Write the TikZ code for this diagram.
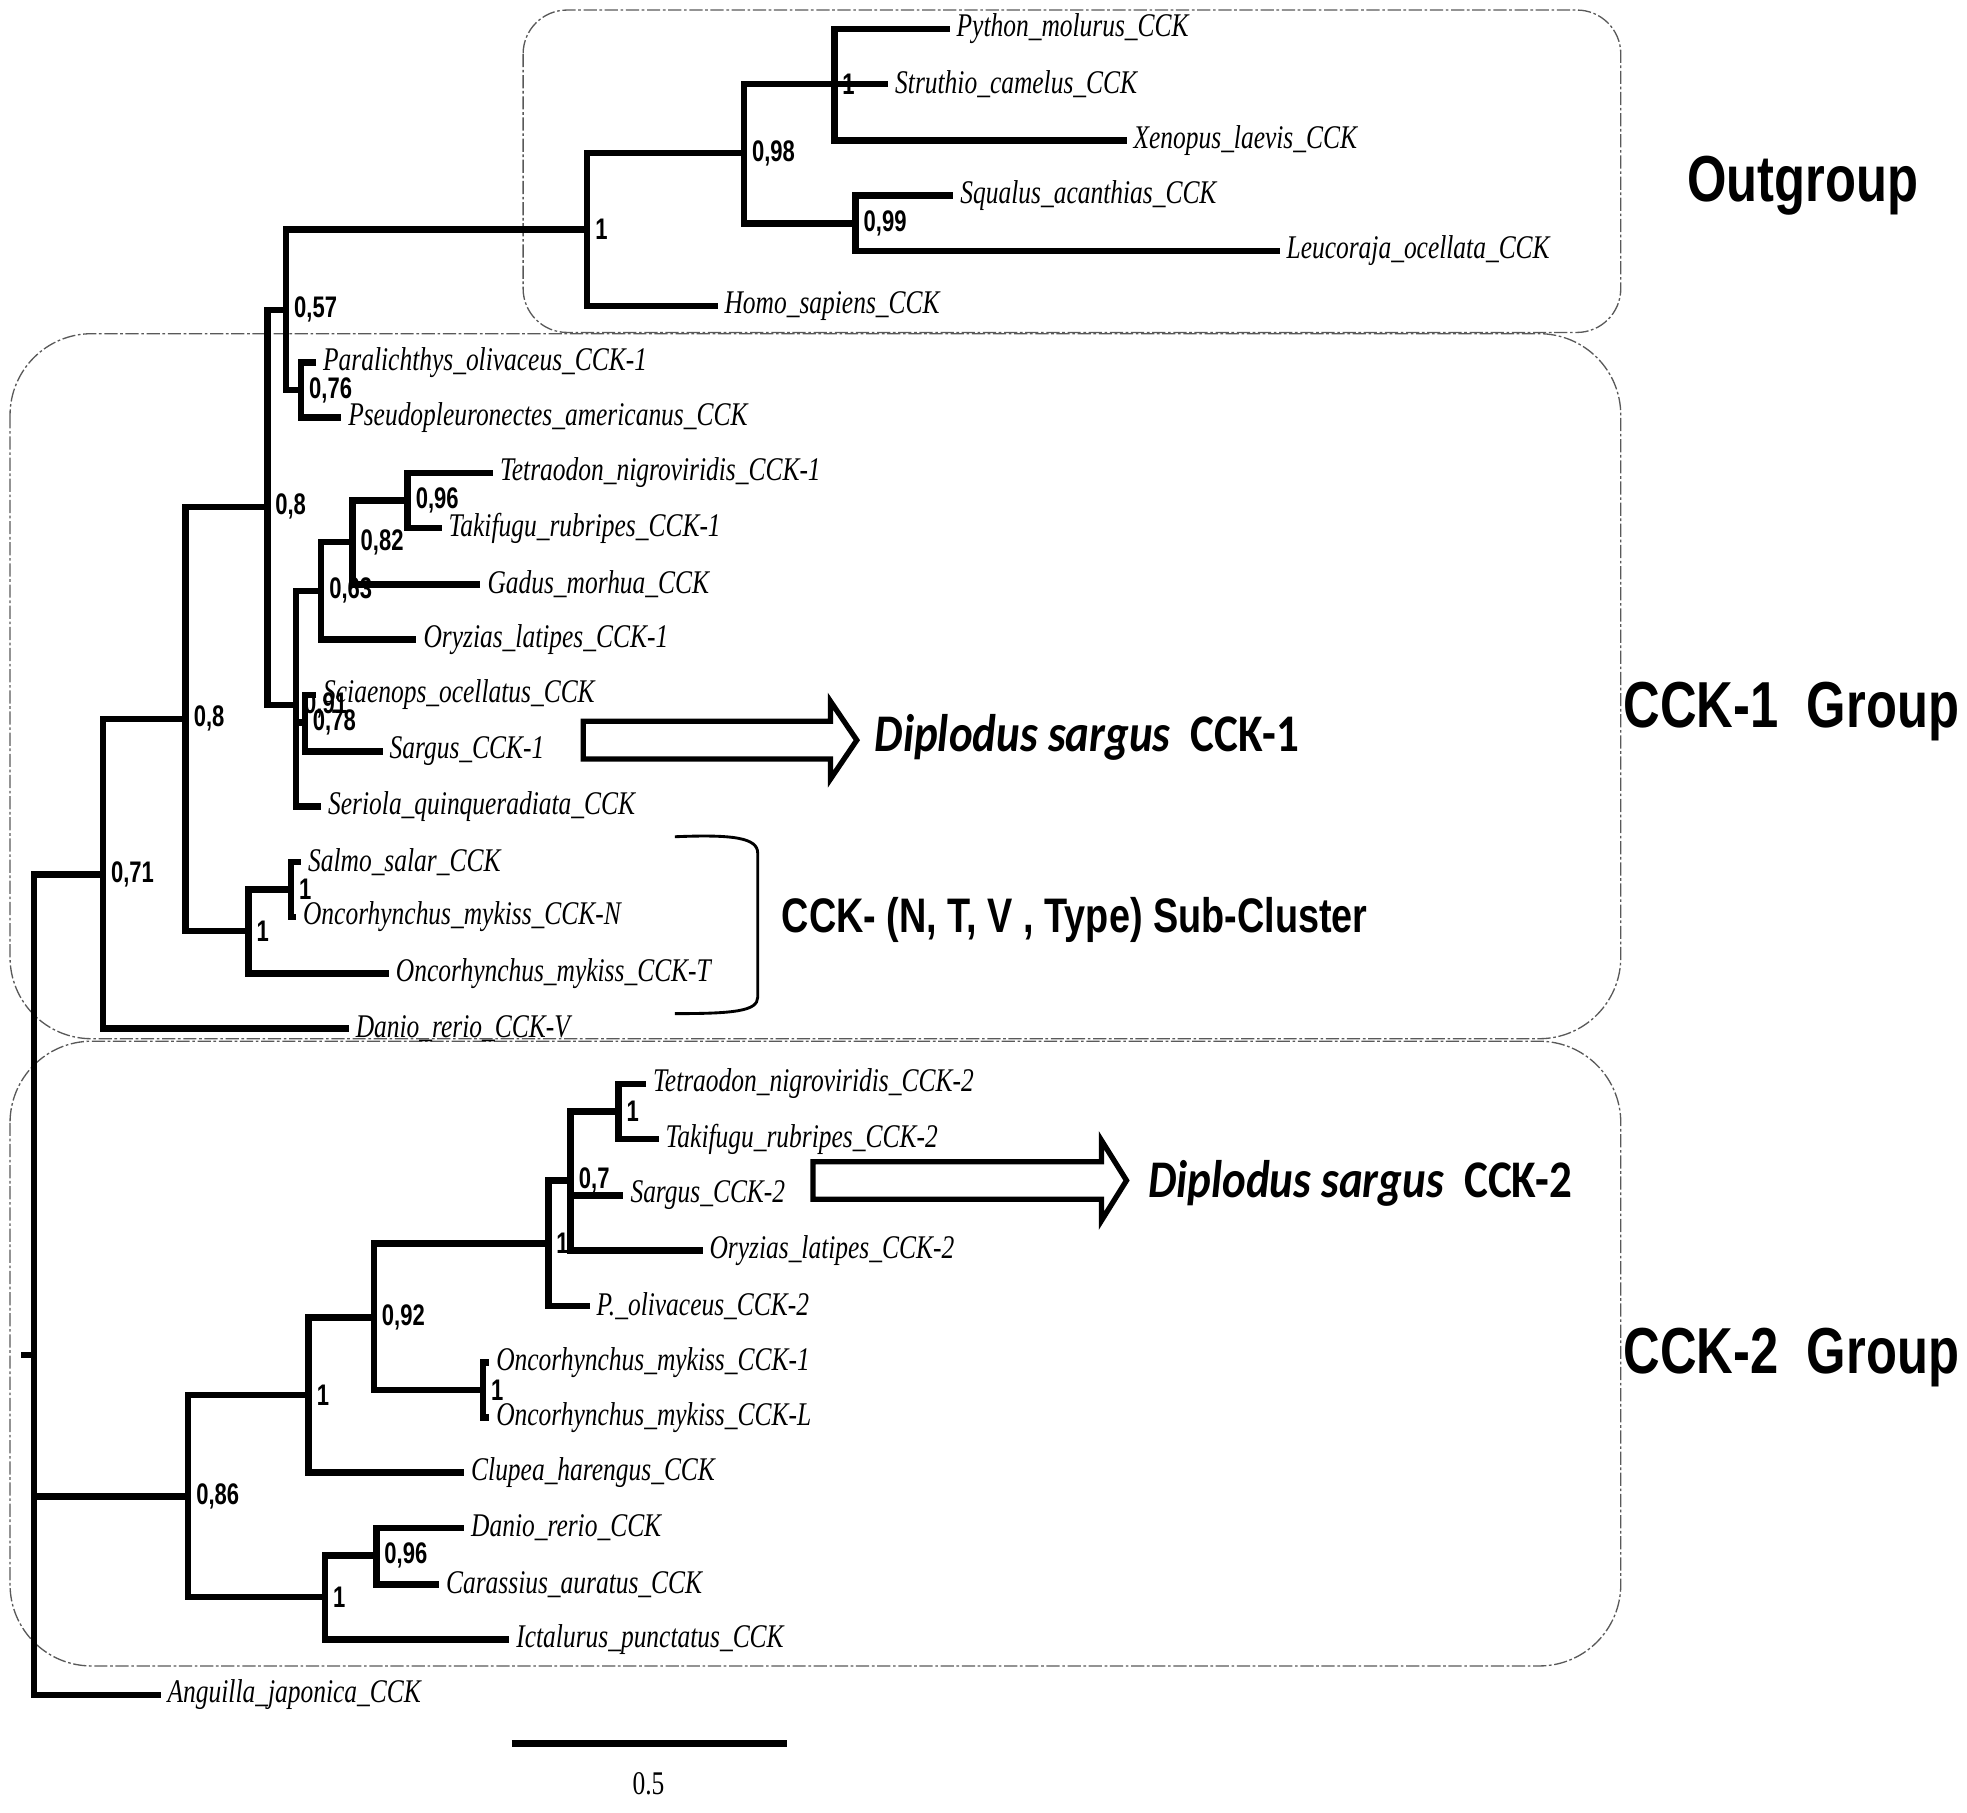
\documentclass[tikz,border=0pt]{standalone}
\usepackage{fontspec}
\usepackage{tikz}
\usetikzlibrary{positioning, backgrounds}
\setmainfont{Liberation Serif}
\newfontfamily\taxfont[FakeStretch=0.77]{Liberation Serif}
\newfontfamily\suppfont[FakeStretch=0.74]{Liberation Sans}
\newfontfamily\grpfont[FakeStretch=0.78]{Liberation Sans}
\newfontfamily\dipfont[FakeStretch=0.85]{Carlito}

\begin{document}
\begin{tikzpicture}[x=0.02cm, y=-0.02cm]
    \tikzstyle{taxon} = [anchor=west, inner sep=3pt, font=\taxfont\itshape\fontsize{15}{18}\selectfont]
    \tikzstyle{support} = [anchor=west, inner sep=1pt, xshift=2.5pt, font=\suppfont\bfseries\fontsize{13.5}{15}\selectfont]
    \tikzstyle{group} = [inner sep=0pt, font=\grpfont\bfseries\fontsize{29.5}{34}\selectfont]
    \tikzstyle{sub} = [anchor=west, inner sep=0pt, font=\grpfont\bfseries\fontsize{22}{26}\selectfont]
    \tikzstyle{dip} = [anchor=west, inner sep=0pt, font=\dipfont\bfseries\fontsize{24}{28}\selectfont]
    \tikzstyle{elbow} = [draw, line width=3pt, to path={|- (\tikztotarget)}]
    \tikzstyle{groupbox} = [draw=black!65, line width=0.6pt, dash pattern=on 6pt off 1.2pt on 1.2pt off 1.2pt]
    \tikzstyle{fatarrow} = [draw, line width=2.4pt, fill=white, line join=miter]

    \useasboundingbox (0,0) rectangle (1568,1445);

    % Inner nodes of the tree
    \coordinate (root) at (27,1080);
    \coordinate (rootstub) at (17,1080);
    \coordinate (n071) at (82,697);
    \coordinate (n08a) at (148,573);
    \coordinate (n08b) at (213,404);
    \coordinate (n057) at (228,247);
    \coordinate (nout) at (468,183);
    \coordinate (n098) at (593,122);
    \coordinate (n1py) at (665,67);
    \coordinate (n099) at (682,178);
    \coordinate (n076) at (240,311);
    \coordinate (n091) at (236,562);
    \coordinate (n063) at (256,471);
    \coordinate (n082) at (281,432);
    \coordinate (n096a) at (325,399);
    \coordinate (n078) at (243,576);
    \coordinate (n1sal) at (198,742);
    \coordinate (n1om) at (232,709);
    \coordinate (n086) at (150,1193);
    \coordinate (n1c) at (246,1112);
    \coordinate (n092) at (298,1050);
    \coordinate (n1p) at (437,991);
    \coordinate (n07) at (455,941);
    \coordinate (n1t) at (493,886);
    \coordinate (n1o) at (385,1108);
    \coordinate (n1d) at (259,1273);
    \coordinate (n096b) at (300,1240);

    % Outgroup
    \node[taxon] (python) at (757,23) {Python\_molurus\_CCK};
    \node[taxon] (struthio) at (708,67) {Struthio\_camelus\_CCK};
    \node[taxon] (xenopus) at (898,112) {Xenopus\_laevis\_CCK};
    \node[taxon] (squalus) at (760,156) {Squalus\_acanthias\_CCK};
    \node[taxon] (leucoraja) at (1020,200) {Leucoraja\_ocellata\_CCK};
    \node[taxon] (homo) at (572,244) {Homo\_sapiens\_CCK};

    % CCK-1 group
    \node[taxon] (paralichthys) at (252,289) {Paralichthys\_olivaceus\_CCK-1};
    \node[taxon] (pseudopleuronectes) at (272,333) {Pseudopleuronectes\_americanus\_CCK};
    \node[taxon] (tetraodonA) at (393,377) {Tetraodon\_nigroviridis\_CCK-1};
    \node[taxon] (takifuguA) at (352,421) {Takifugu\_rubripes\_CCK-1};
    \node[taxon] (gadus) at (383,466) {Gadus\_morhua\_CCK};
    \node[taxon] (oryziasA) at (332,510) {Oryzias\_latipes\_CCK-1};
    \node[taxon] (sciaenops) at (252,554) {Sciaenops\_ocellatus\_CCK};
    \node[taxon] (sargusA) at (305,599) {Sargus\_CCK-1};
    \node[taxon] (seriola) at (256,643) {Seriola\_quinqueradiata\_CCK};
    \node[taxon] (salmo) at (240,687) {Salmo\_salar\_CCK};
    \node[taxon] (oncoN) at (236,731) {Oncorhynchus\_mykiss\_CCK-N};
    \node[taxon] (oncoT) at (310,776) {Oncorhynchus\_mykiss\_CCK-T};
    \node[taxon] (danioV) at (278,820) {Danio\_rerio\_CCK-V};

    % CCK-2 group
    \node[taxon] (tetraodonB) at (515,864) {Tetraodon\_nigroviridis\_CCK-2};
    \node[taxon] (takifuguB) at (525,908) {Takifugu\_rubripes\_CCK-2};
    \node[taxon] (sargusB) at (497,953) {Sargus\_CCK-2};
    \node[taxon] (oryziasB) at (560,997) {Oryzias\_latipes\_CCK-2};
    \node[taxon] (polivaceus) at (470,1041) {P.\_olivaceus\_CCK-2};
    \node[taxon] (oncoOne) at (390,1086) {Oncorhynchus\_mykiss\_CCK-1};
    \node[taxon] (oncoL) at (390,1130) {Oncorhynchus\_mykiss\_CCK-L};
    \node[taxon] (clupea) at (370,1174) {Clupea\_harengus\_CCK};
    \node[taxon] (danio) at (370,1218) {Danio\_rerio\_CCK};
    \node[taxon] (carassius) at (350,1263) {Carassius\_auratus\_CCK};
    \node[taxon] (ictalurus) at (406,1307) {Ictalurus\_punctatus\_CCK};
    \node[taxon] (anguilla) at (128,1351) {Anguilla\_japonica\_CCK};

    % Support values
    \node[support] (s071) at (n071) {0,71};
    \node[support] (s08a) at (n08a) {0,8};
    \node[support] (s08b) at (n08b) {0,8};
    \node[support] (s057) at (n057) {0,57};
    \node[support] (sout) at (nout) {1};
    \node[support] (s098) at (n098) {0,98};
    \node[support] (s1py) at (n1py) {1};
    \node[support] (s099) at (n099) {0,99};
    \node[support] (s076) at (n076) {0,76};
    \node[support] (s091) at (n091) {0,91};
    \node[support] (s063) at (n063) {0,63};
    \node[support] (s082) at (n082) {0,82};
    \node[support] (s096a) at (n096a) {0,96};
    \node[support] (s078) at (n078) {0,78};
    \node[support] (s1sal) at (n1sal) {1};
    \node[support] (s1om) at (n1om) {1};
    \node[support] (s086) at (n086) {0,86};
    \node[support] (s1c) at (n1c) {1};
    \node[support] (s092) at (n092) {0,92};
    \node[support] (s1p) at (n1p) {1};
    \node[support] (s07) at (n07) {0,7};
    \node[support] (s1t) at (n1t) {1};
    \node[support] (s1o) at (n1o) {1};
    \node[support] (s1d) at (n1d) {1};
    \node[support] (s096b) at (n096b) {0,96};

    % Group names
    \node[group] (outgrp) at (1437,148) {Outgroup};
    \node[group] (cckone) at (1428,567) {CCK-1\ \ Group};
    \node[group] (ccktwo) at (1428,1082) {CCK-2\ \ Group};
    \node[sub] (subclus) at (623,733) {CCK- (N, T, V , Type) Sub-Cluster};
    \node[dip] (dipA) at (697,588) {\textit{Diplodus sargus}\ \ CCK-1};
    \node[dip] (dipB) at (915,943) {\textit{Diplodus sargus}\ \ CCK-2};

    % Block arrows and bracket
    \coordinate (tailA) at (465,590);
    \coordinate (tailB) at (648,941);
    \draw[fatarrow] (tailA) ++(0,-15) -- ++(197,0) -- ++(0,-16) -- ++(21,31)
        -- ++(-21,31) -- ++(0,-16) -- ++(-197,0) -- cycle;
    \draw[fatarrow] (tailB) ++(0,-15) -- ++(230,0) -- ++(0,-17) -- ++(20,32)
        -- ++(-20,32) -- ++(0,-17) -- ++(-230,0) -- cycle;
    \draw[line width=1.3pt] (538,667) .. controls (585,665) and (604,668) .. (604,680)
        -- (604,795) .. controls (604,806) and (585,808) .. (538,808);

    % Scale bar
    \coordinate (sbl) at (408,1390);
    \coordinate (sbr) at (627,1390);
    \draw[line width=3pt] (sbl) -- (sbr);
    \node[font=\taxfont\fontsize{15}{18}\selectfont] (sblab) at (517,1422) {0.5};

    \begin{scope}[on background layer]
        % Group frames
        \draw[groupbox, rounded corners=0.7cm] (417,8) rectangle (1292,265);
        \draw[groupbox, rounded corners=1.3cm] (8,266) rectangle (1292,828);
        \draw[groupbox, rounded corners=1.3cm] (8,830) rectangle (1292,1328);

        % Branches
        \draw[line width=3pt] (rootstub) -- (root);
        \path[elbow]
            (root) edge (n071)
            (root) edge (n086)
            (root) edge (anguilla)
            (n071) edge (n08a)
            (n071) edge (danioV)
            (n08a) edge (n08b)
            (n08a) edge (n1sal)
            (n08b) edge (n057)
            (n08b) edge (n091)
            (n057) edge (nout)
            (n057) edge (n076)
            (nout) edge (n098)
            (nout) edge (homo)
            (n098) edge (n1py)
            (n098) edge (n099)
            (n1py) edge (python)
            (n1py) edge (struthio)
            (n1py) edge (xenopus)
            (n099) edge (squalus)
            (n099) edge (leucoraja)
            (n076) edge (paralichthys)
            (n076) edge (pseudopleuronectes)
            (n091) edge (n063)
            (n091) edge (n078)
            (n091) edge (seriola)
            (n063) edge (n082)
            (n063) edge (oryziasA)
            (n082) edge (n096a)
            (n082) edge (gadus)
            (n096a) edge (tetraodonA)
            (n096a) edge (takifuguA)
            (n078) edge (sciaenops)
            (n078) edge (sargusA)
            (n1sal) edge (n1om)
            (n1sal) edge (oncoT)
            (n1om) edge (salmo)
            (n1om) edge (oncoN)
            (n086) edge (n1c)
            (n086) edge (n1d)
            (n1c) edge (n092)
            (n1c) edge (clupea)
            (n092) edge (n1p)
            (n092) edge (n1o)
            (n1p) edge (n07)
            (n1p) edge (polivaceus)
            (n07) edge (n1t)
            (n07) edge (sargusB)
            (n07) edge (oryziasB)
            (n1t) edge (tetraodonB)
            (n1t) edge (takifuguB)
            (n1o) edge (oncoOne)
            (n1o) edge (oncoL)
            (n1d) edge (n096b)
            (n1d) edge (ictalurus)
            (n096b) edge (danio)
            (n096b) edge (carassius);
    \end{scope}
\end{tikzpicture}
\end{document}
